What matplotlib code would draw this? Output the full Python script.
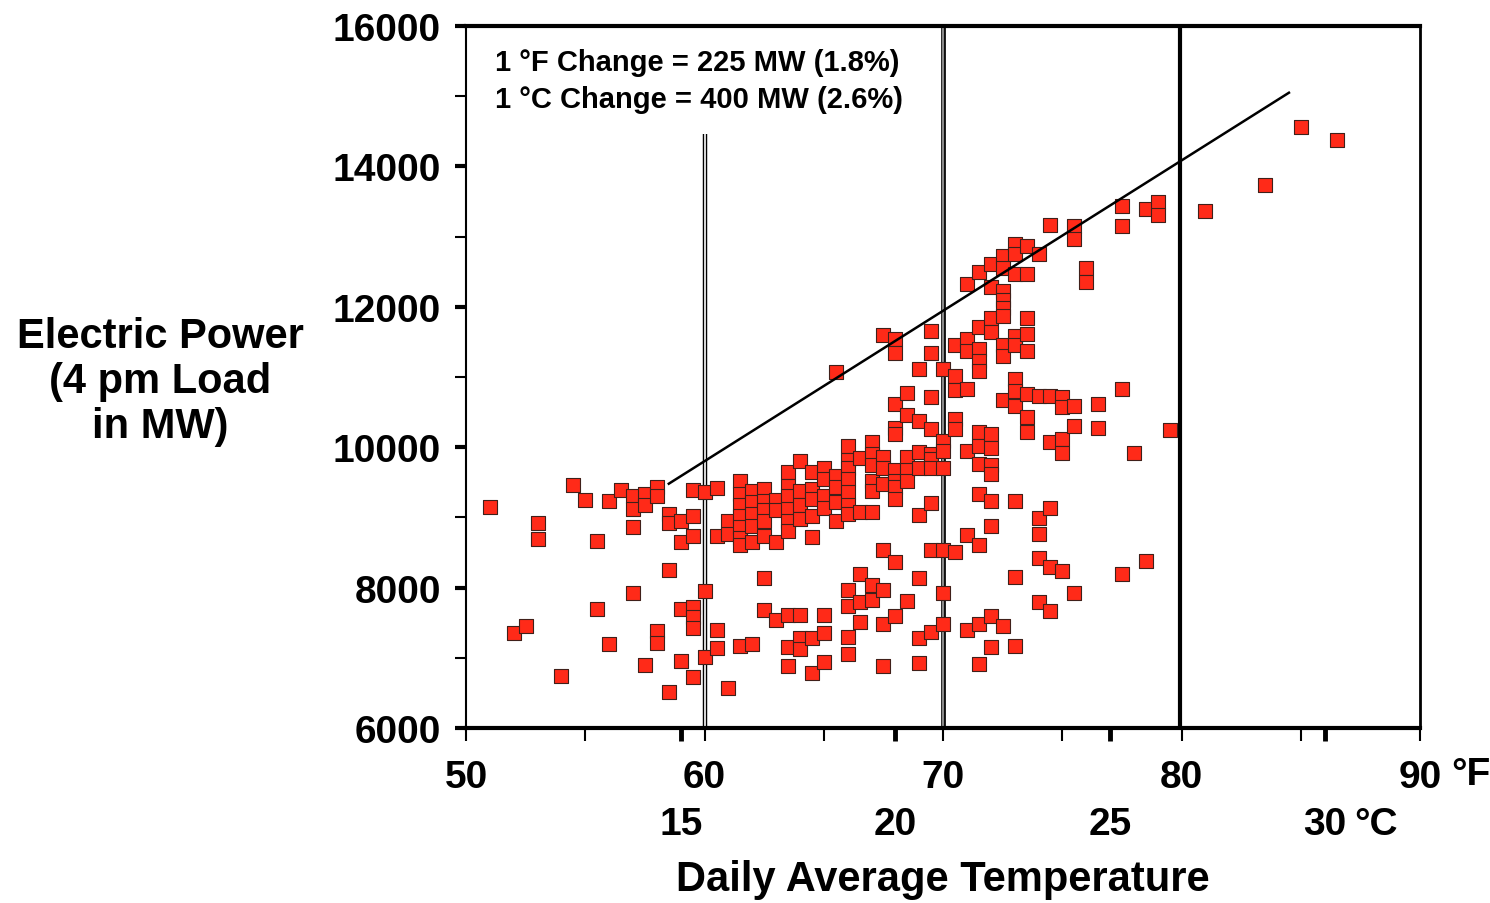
import numpy as np
import matplotlib.pyplot as plt
from matplotlib.ticker import FixedLocator

plt.rcParams['font.family'] = ['Liberation Sans', 'DejaVu Sans']

# daily average temperature (F) and 4 pm load (MW), one line per temperature column
temp_f = [
    51.0,
    52.0,
    52.5,
    53.0, 53.0,
    54.0,
    54.5,
    55.0,
    55.5, 55.5,
    56.0, 56.0,
    56.5,
    57.0, 57.0, 57.0, 57.0,
    57.5, 57.5, 57.5,
    58.0, 58.0, 58.0, 58.0,
    58.5, 58.5, 58.5, 58.5,
    59.0, 59.0, 59.0, 59.0,
    59.5, 59.5, 59.5, 59.5, 59.5, 59.5, 59.5,
    60.0, 60.0, 60.0,
    60.5, 60.5, 60.5, 60.5,
    61.0, 61.0, 61.0,
    61.5, 61.5, 61.5, 61.5, 61.5, 61.5, 61.5, 61.5,
    62.0, 62.0, 62.0, 62.0, 62.0, 62.0,
    62.5, 62.5, 62.5, 62.5, 62.5, 62.5, 62.5,
    63.0, 63.0, 63.0, 63.0,
    63.5, 63.5, 63.5, 63.5, 63.5, 63.5, 63.5, 63.5, 63.5,
    64.0, 64.0, 64.0, 64.0, 64.0, 64.0, 64.0,
    64.5, 64.5, 64.5, 64.5, 64.5, 64.5, 64.5,
    65.0, 65.0, 65.0, 65.0, 65.0, 65.0, 65.0,
    65.5, 65.5, 65.5, 65.5, 65.5,
    66.0, 66.0, 66.0, 66.0, 66.0, 66.0, 66.0, 66.0, 66.0, 66.0, 66.0,
    66.5, 66.5, 66.5, 66.5, 66.5,
    67.0, 67.0, 67.0, 67.0, 67.0, 67.0, 67.0, 67.0,
    67.5, 67.5, 67.5, 67.5, 67.5, 67.5, 67.5, 67.5,
    68.0, 68.0, 68.0, 68.0, 68.0, 68.0, 68.0, 68.0, 68.0, 68.0, 68.0,
    68.5, 68.5, 68.5, 68.5, 68.5, 68.5,
    69.0, 69.0, 69.0, 69.0, 69.0, 69.0, 69.0, 69.0,
    69.5, 69.5, 69.5, 69.5, 69.5, 69.5, 69.5, 69.5, 69.5, 69.5,
    70.0, 70.0, 70.0, 70.0, 70.0, 70.0, 70.0,
    70.5, 70.5, 70.5, 70.5, 70.5, 70.5,
    71.0, 71.0, 71.0, 71.0, 71.0, 71.0, 71.0,
    71.5, 71.5, 71.5, 71.5, 71.5, 71.5, 71.5, 71.5, 71.5, 71.5, 71.5, 71.5,
    72.0, 72.0, 72.0, 72.0, 72.0, 72.0, 72.0, 72.0, 72.0, 72.0, 72.0, 72.0,
    72.5, 72.5, 72.5, 72.5, 72.5, 72.5, 72.5, 72.5, 72.5, 72.5,
    73.0, 73.0, 73.0, 73.0, 73.0, 73.0, 73.0, 73.0, 73.0, 73.0, 73.0,
    73.5, 73.5, 73.5, 73.5, 73.5, 73.5, 73.5, 73.5,
    74.0, 74.0, 74.0, 74.0, 74.0, 74.0,
    74.5, 74.5, 74.5, 74.5, 74.5, 74.5,
    75.0, 75.0, 75.0, 75.0, 75.0,
    75.5, 75.5, 75.5, 75.5, 75.5,
    76.0, 76.0,
    76.5, 76.5,
    77.5, 77.5, 77.5, 77.5,
    78.0,
    78.5, 78.5,
    79.0, 79.0,
    79.5,
    81.0,
    83.5,
    85.0,
    86.5,
]
load_mw = [
    9150,
    7350,
    7450,
    8920, 8690,
    6740,
    9460,
    9250,
    8660, 7700,
    9240, 7190,
    9390,
    9300, 9120, 8870, 7920,
    9330, 9180, 6900,
    9430, 9310, 7380, 7210,
    9050, 8920, 8250, 6510,
    8950, 8650, 7700, 6960,
    9390, 9020, 8730, 7730, 7580, 7420, 6720,
    9360, 7950, 7010,
    9420, 8740, 7400, 7140,
    8950, 8760, 6570,
    9520, 9330, 9170, 9020, 8870, 8700, 8610, 7170,
    9380, 9220, 9050, 8880, 8650, 7200,
    9400, 9240, 9100, 8950, 8740, 8140, 7680,
    9250, 9100, 8650, 7540,
    9640, 9450, 9310, 9120, 8950, 8810, 7610, 7160, 6890,
    9810, 9380, 9170, 8980, 7610, 7280, 7120,
    9640, 9400, 9260, 9020, 8720, 7280, 6790,
    9710, 9550, 9310, 9140, 7610, 7350, 6940,
    11070, 9590, 9430, 9220, 8950,
    10020, 9820, 9710, 9550, 9360, 9170, 9050, 7970, 7740, 7300, 7050,
    9840, 9070, 8200, 7790, 7510,
    10070, 9900, 9740, 9520, 9380, 9070, 8030, 7830,
    11600, 9860, 9710, 9480, 8530, 7960, 7480, 6890,
    11540, 11340, 10610, 10280, 10190, 9670, 9520, 9430, 9260, 8360, 7600,
    10770, 10460, 9860, 9670, 9520, 7810,
    11110, 10380, 9930, 9710, 9030, 8140, 7280, 6930,
    11650, 11340, 10710, 10260, 9900, 9830, 9710, 9210, 8530, 7370,
    11110, 10090, 9950, 9710, 8540, 7920, 7480,
    11460, 11020, 10810, 10400, 10260, 8510,
    12320, 11540, 11370, 10830, 9950, 8750, 7390,
    12490, 11710, 11400, 11230, 11090, 10210, 10020, 9760, 9330, 8610, 7480, 6910,
    12610, 12280, 11840, 11640, 10190, 9990, 9740, 9620, 9240, 8880, 7600, 7150,
    12730, 12560, 12230, 12090, 11990, 11870, 11450, 11300, 10670, 7450,
    12890, 12750, 12470, 11590, 11450, 10970, 10800, 10590, 9240, 8150, 7170,
    12870, 12470, 11840, 11610, 11370, 10760, 10430, 10220,
    12750, 10730, 8990, 8760, 8420, 7800,
    13170, 10730, 10070, 9140, 8300, 7660,
    10710, 10570, 10110, 9920, 8230,
    13150, 12970, 10580, 10300, 7930,
    12550, 12360,
    10610, 10270,
    13430, 13150, 10830, 8200,
    9920,
    13390, 8380,
    13490, 13310,
    10240,
    13360,
    13740,
    14560,
    14370,
]

# envelope line drawn on the chart
fit_temp = [58.5, 84.5]
fit_load = [9480, 15050]

f_ticks = [50, 55, 60, 65, 70, 75, 80, 85, 90]
f_labels = ['50', '', '60', '', '70', '', '80', '', '90']
c_ticks = [59, 68, 77, 86]          # 15, 20, 25, 30 C expressed in F
c_labels = ['15', '20', '25', '30']
y_ticks = [6000, 8000, 10000, 12000, 14000, 16000]
y_minor = [7000, 9000, 11000, 13000, 15000]

fig = plt.figure(figsize=(14.9, 9.04), dpi=100)
ax = fig.add_axes([0.3128, 0.1936, 0.6403, 0.7765])
ax.set_xlim(50, 90)
ax.set_ylim(6000, 16000)

# reference verticals
ax.plot([60, 60], [6000, 14460], color='black', lw=3.2, solid_capstyle='butt', zorder=1)
ax.plot([60, 60], [6000, 14460], color='white', lw=1.2, solid_capstyle='butt', zorder=1)
ax.axvline(70, color='black', lw=3.4, zorder=1)
ax.axvline(70, color='#8a8a8a', lw=1.6, zorder=1)
ax.axvline(79.95, color='black', lw=3.0, zorder=1)

ax.scatter(temp_f, load_mw, marker='s', s=90, c='#ff2a18',
           edgecolors='#40201a', linewidths=0.8, zorder=3)
ax.plot(fit_temp, fit_load, color='black', lw=1.8, zorder=4)

ax.set_xticks(f_ticks)
ax.set_xticklabels(f_labels)
ax.xaxis.set_minor_locator(FixedLocator(c_ticks))
ax.tick_params(axis='x', which='major', direction='out', length=9, width=1.5,
               pad=13, labelsize=28)
ax.tick_params(axis='x', which='minor', direction='out', length=9, width=3.5)
ax.set_yticks(y_ticks)
ax.set_yticks(y_minor, minor=True)
ax.tick_params(axis='y', which='major', direction='out', length=8, width=3,
               pad=10, labelsize=28)
ax.tick_params(axis='y', which='minor', direction='out', length=8, width=1.5)
for lab in ax.get_xticklabels() + ax.get_yticklabels():
    lab.set_fontweight('bold')

xt = ax.get_xaxis_transform()
for t, lab in zip(c_ticks, c_labels):
    ax.text(t, -0.137, lab, transform=xt, ha='center', va='center',
            fontsize=28, fontweight='bold', clip_on=False)
ax.text(87.25, -0.137, '°C', transform=xt, ha='left', va='center',
        fontsize=28, fontweight='bold', clip_on=False)
ax.text(91.3, -0.066, '°F', transform=xt, ha='left', va='center',
        fontsize=28, fontweight='bold', clip_on=False)

for side, w in [('bottom', 3), ('top', 3), ('left', 1.5), ('right', 2)]:
    ax.spines[side].set_linewidth(w)

ax.text(0.030, 0.949, '1 °F Change = 225 MW (1.8%)', transform=ax.transAxes,
        fontsize=21, fontweight='bold', va='center')
ax.text(0.030, 0.896, '1 °C Change = 400 MW (2.6%)', transform=ax.transAxes,
        fontsize=21, fontweight='bold', va='center')

fig.text(943 / 1490, 1 - 880 / 904, 'Daily Average Temperature', ha='center',
         va='center', fontsize=30, fontweight='bold')
fig.text(160 / 1490, 1 - 382 / 904, 'Electric Power\n(4 pm Load\nin MW)',
         ha='center', va='center', fontsize=30, fontweight='bold',
         linespacing=1.15, multialignment='center')

fig.savefig('out.png', dpi=100)
